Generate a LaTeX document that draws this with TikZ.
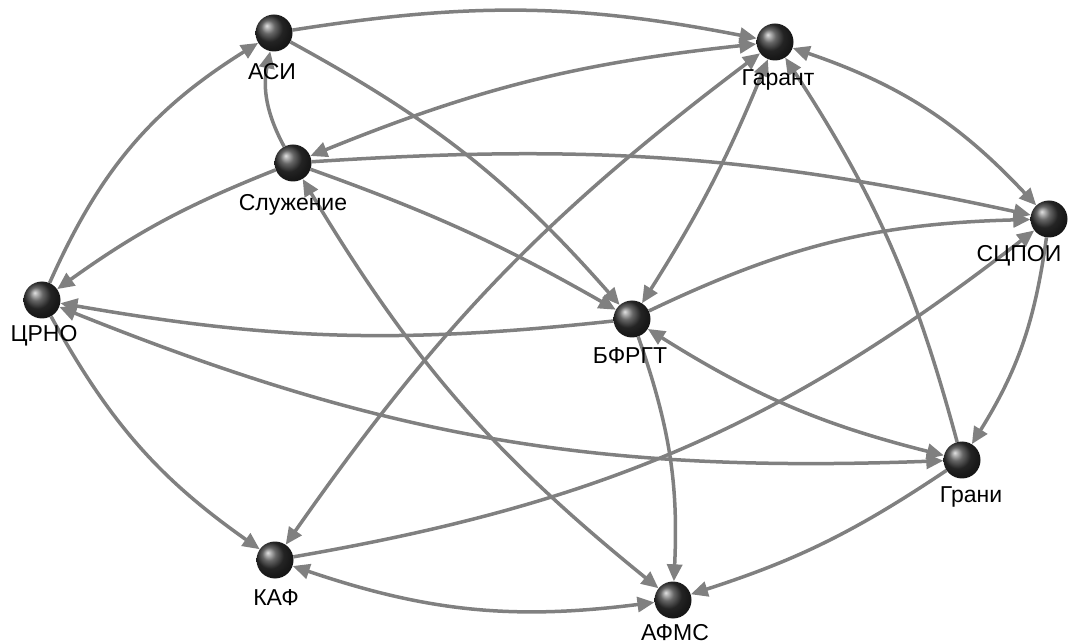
\documentclass[tikz,border=0pt]{standalone}
\usepackage{fontspec}
\setmainfont{Liberation Sans}
\usetikzlibrary{arrows.meta,shadings}
\pgfdeclarelayer{bg}
\pgfsetlayers{bg,main}
\definecolor{edgegray}{RGB}{128,128,128}
\begin{document}
\begin{tikzpicture}[x=1pt,y=-1pt,
  ball/.style={circle, minimum size=37pt, inner sep=0pt, shading=ball, ball color=black!80},
  lbl/.style={font=\fontsize{23}{23}\selectfont, inner sep=0pt, text=black},
  link/.style={draw=edgegray, line width=3.5pt, -{Triangle[length=17pt,width=15pt]}},
  dlink/.style={draw=edgegray, line width=3.5pt, {Triangle[length=17pt,width=15pt]}-{Triangle[length=17pt,width=15pt]}}
]
\useasboundingbox (0,0) rectangle (1072,644);
% balls
\node[ball] (asi)    at (274,33)  {};
\node[ball] (garant) at (775,42)  {};
\node[ball] (sluzh)  at (293,163) {};
\node[ball] (scpoi)  at (1049,219) {};
\node[ball] (crno)   at (42,300)  {};
\node[ball] (bfrgt)  at (632,319) {};
\node[ball] (grani)  at (962,460) {};
\node[ball] (kaf)    at (275,560) {};
\node[ball] (afms)   at (673,600) {};
% labels
\node[lbl] (asiL)    at (272,72)  {АСИ};
\node[lbl] (garantL) at (778,80)  {Гарант};
\node[lbl] (sluzhL)  at (293,205) {Служение};
\node[lbl] (scpoiL)  at (1019,256) {СЦПОИ};
\node[lbl] (crnoL)   at (44,336)  {ЦРНО};
\node[lbl] (bfrgtL)  at (630,356) {БФРГТ};
\node[lbl] (graniL)  at (971,497) {Грани};
\node[lbl] (kafL)    at (276,598) {КАФ};
\node[lbl] (afmsL)   at (675,633) {АФМС};
% edges
\begin{pgfonlayer}{bg}
\draw[link] (asi) to[bend left=10] (garant);
\draw[link] (asi) to[bend left=10] (bfrgt);
\draw[link] (sluzh) to[bend left=20] (asi);
\draw[link] (crno) to[bend left=17] (asi);
\draw[dlink] (sluzh) to[bend left=8] (garant);
\draw[link] (sluzh) to[bend left=8] (scpoi);
\draw[link] (sluzh) to[bend right=7] (crno);
\draw[link] (sluzh) to[bend left=5] (bfrgt);
\draw[dlink] (sluzh) to[bend right=10] (afms);
\draw[link] (bfrgt) to[bend left=8] (crno);
\draw[dlink] (crno) to[bend right=12] (grani);
\draw[link] (crno) to[bend right=13] (kaf);
\draw[dlink] (garant) to[bend right=9] (kaf);
\draw[link] (kaf) to[bend right=14] (scpoi);
\draw[dlink] (kaf) to[bend right=13] (afms);
\draw[dlink] (garant) to[bend left=5] (bfrgt);
\draw[dlink] (garant) to[bend left=14] (scpoi);
\draw[link] (grani) to[bend right=9] (garant);
\draw[link] (scpoi) to[bend left=12] (grani);
\draw[link] (bfrgt) to[bend left=12] (scpoi);
\draw[dlink] (bfrgt) to[bend right=9] (grani);
\draw[link] (bfrgt) to[bend left=11] (afms);
\draw[link] (grani) to[bend left=8] (afms);
\end{pgfonlayer}
\end{tikzpicture}
\end{document}
